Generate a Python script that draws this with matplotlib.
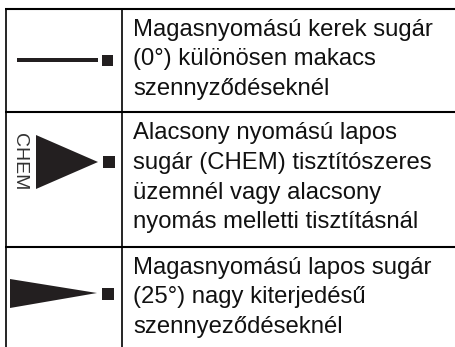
import matplotlib
matplotlib.use("Agg")
import matplotlib.pyplot as plt
from matplotlib.patches import Polygon, Rectangle

W = 456
H = 347
plt.rcParams['font.family'] = ['Liberation Sans', 'DejaVu Sans']

row_lines = [8.7, 112, 246.7]
col_line = 122

row1_text = ['Magasnyomású kerek sugár', '(0°) különösen makacs', 'szennyződéseknél']
row2_text = ['Alacsony nyomású lapos', 'sugár (CHEM) tisztítószeres',
             'üzemnél vagy alacsony', 'nyomás melletti tisztításnál']
row3_text = ['Magasnyomású lapos sugár', '(25°) nagy kiterjedésű', 'szennyeződéseknél']
row1_y = [36, 65, 95]
row2_y = [139, 169, 199, 228]
row3_y = [274, 303, 333]

fig = plt.figure(figsize=(W / 100, H / 100), dpi=100)
ax = fig.add_axes([0, 0, 1, 1])
ax.set_xlim(0, W)
ax.set_ylim(H, 0)
ax.axis('off')

ink = '#231f20'

# table rules, bottom and right stay open
for y in row_lines:
    ax.plot([5, W], [y, y], color='black', lw=1.5, solid_capstyle='butt')
ax.plot([6, 6], [8, H], color='black', lw=1.2, solid_capstyle='butt')
ax.plot([col_line, col_line], [8, H], color='black', lw=1.2, solid_capstyle='butt')

# text
for lines, ys in [(row1_text, row1_y), (row2_text, row2_y), (row3_text, row3_y)]:
    for s, y in zip(lines, ys):
        ax.text(133, y, s, fontsize=17.2, color='#111111', va='baseline', ha='left')

# spray icons
ax.add_patch(Rectangle((17, 58), 81, 4, color=ink, lw=0))
ax.add_patch(Rectangle((102, 55), 11, 11, color=ink, lw=0))

ax.add_patch(Polygon([(36, 135), (36, 189), (98, 162)], closed=True, color=ink, lw=0))
ax.add_patch(Rectangle((103, 156), 12, 12, color=ink, lw=0))
ax.text(20, 161.5, 'CHEM', rotation=-90, fontsize=14, color='#333333', ha='center', va='center')

ax.add_patch(Polygon([(10, 279), (10, 308), (97, 293)], closed=True, color=ink, lw=0))
ax.add_patch(Rectangle((102, 288), 12, 12, color=ink, lw=0))

fig.savefig('out.png', dpi=100)
